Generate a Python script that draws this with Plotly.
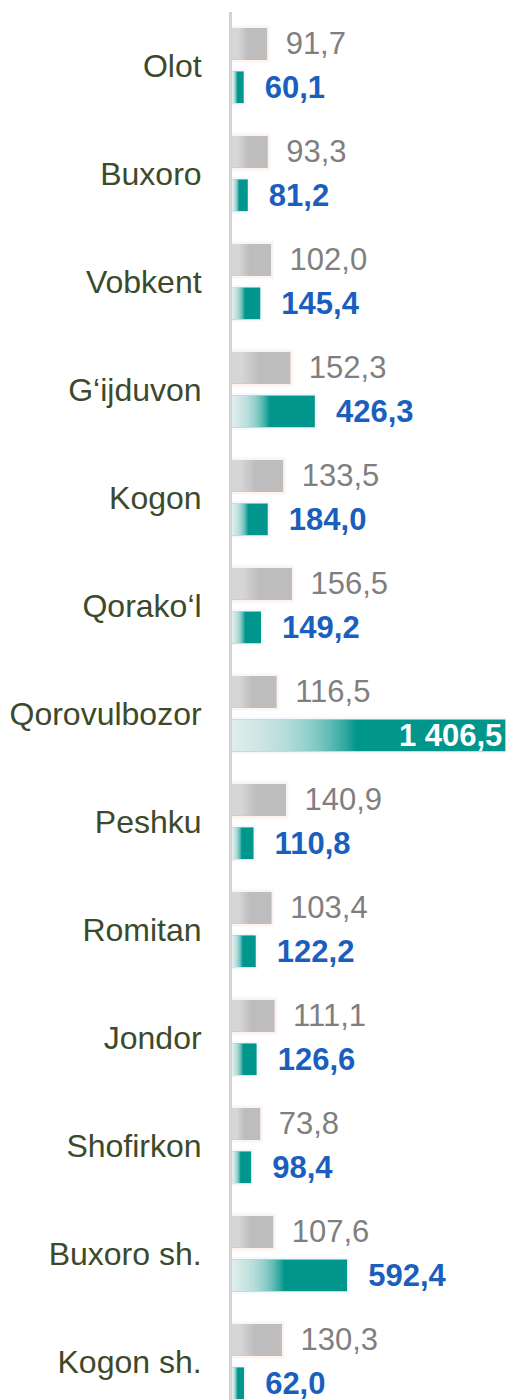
import plotly.graph_objects as go

categories = ["Olot", "Buxoro", "Vobkent", "G\u2018ijduvon", "Kogon", "Qorako\u2018l",
              "Qorovulbozor", "Peshku", "Romitan", "Jondor", "Shofirkon",
              "Buxoro sh.", "Kogon sh."]
gray_values = [91.7, 93.3, 102.0, 152.3, 133.5, 156.5, 116.5, 140.9, 103.4, 111.1, 73.8, 107.6, 130.3]
teal_values = [60.1, 81.2, 145.4, 426.3, 184.0, 149.2, 1406.5, 110.8, 122.2, 126.6, 98.4, 592.4, 62.0]

GRAY = "#bdbdbd"
TEAL = "#00968c"
FONT = "Arial, 'Liberation Sans', sans-serif"


def fmt(v):
    return f"{v:,.1f}".replace(",", " ").replace(".", ",")


fig = go.Figure()


def add_series(values, color, xaxis, offset, width, text, textpos, tfont, itfont,
               grad_len, layer_opacity, shadow):
    # soft glow under the bar
    fig.add_trace(go.Bar(
        y=categories, x=values, orientation="h", xaxis=xaxis,
        offset=offset, width=width,
        marker=dict(color="rgba(0,0,0,0)", line=dict(width=5, color=shadow)),
        showlegend=False, hoverinfo="skip",
    ))
    fig.add_trace(go.Bar(
        y=categories, x=values, orientation="h", xaxis=xaxis,
        offset=offset, width=width,
        marker=dict(color=color, line=dict(width=0)),
        text=text, textposition=textpos, textangle=0, constraintext="none",
        insidetextanchor="end",
        outsidetextfont=tfont, insidetextfont=itfont,
        cliponaxis=True, showlegend=False, hoverinfo="skip",
    ))
    # stepped white overlays -> left-to-right light gradient
    n = 40
    for k in range(1, n + 1):
        f = grad_len * k / n
        fig.add_trace(go.Bar(
            y=categories, x=[v * f for v in values], orientation="h", xaxis=xaxis,
            offset=offset, width=width,
            marker=dict(color="white", opacity=layer_opacity, line=dict(width=0)),
            showlegend=False, hoverinfo="skip",
        ))


gray_text = ["\u2002" + fmt(v) for v in gray_values]
add_series(gray_values, GRAY, "x", -0.352, 0.296, gray_text, "outside",
           dict(family=FONT, size=31, color="#7f7f7f"),
           dict(family=FONT, size=31, color="#7f7f7f"), 0.45, 0.024,
           "rgba(250,205,180,0.22)")

tmax = max(teal_values)
teal_text = [fmt(v) if v == tmax else "\u2002\u200a" + fmt(v) for v in teal_values]
teal_pos = ["inside" if v == tmax else "outside" for v in teal_values]
add_series(teal_values, TEAL, "x2", 0.05, 0.294, teal_text, teal_pos,
           dict(family=FONT, size=31, color="#1a5fbd", weight="bold"),
           dict(family=FONT, size=31, color="white", weight="bold"), 0.45, 0.056,
           "rgba(200,215,245,0.18)")

fig.update_layout(
    width=506, height=1400,
    margin=dict(l=232, r=0, t=12, b=0),
    paper_bgcolor="white", plot_bgcolor="white",
    barmode="overlay",
    xaxis=dict(range=[0, 715], visible=False, fixedrange=True),
    xaxis2=dict(range=[0, 1410], overlaying="x", side="top", visible=False),
    yaxis=dict(
        type="category", categoryorder="array", categoryarray=categories,
        range=[12.352, -0.5],
        showline=True, linecolor="#d4d4d4", linewidth=3,
        showgrid=False, zeroline=False, ticks="",
        ticklabelstandoff=21,
        tickfont=dict(family=FONT, size=32, color="#3c4a2c"),
    ),
    showlegend=False,
)

fig.write_html(
    "out.html",
    config={"displayModeBar": False},
    post_script="document.body.style.margin='0';document.body.style.overflow='hidden';",
)
